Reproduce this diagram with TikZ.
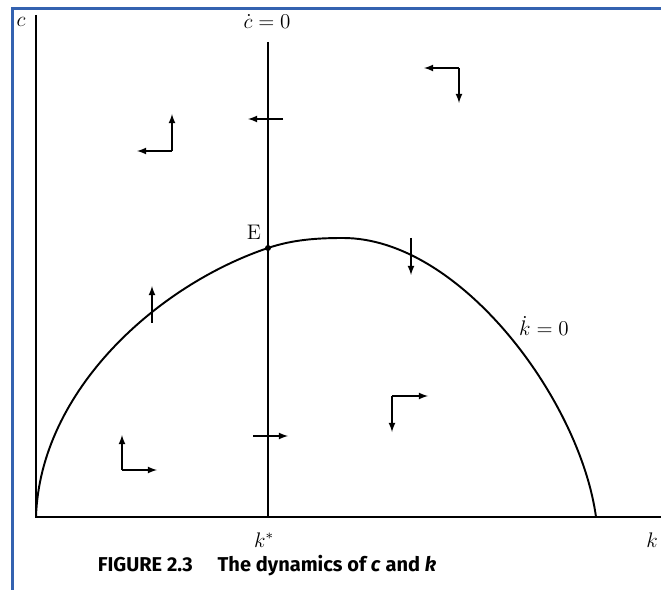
\documentclass[tikz,border=0pt]{standalone}
\usepackage{amsmath}
\usepackage{fontspec}
\newfontfamily\capfont{Fira Sans}
\usepackage{tikz}
\usetikzlibrary{calc,positioning,arrows}

\definecolor{frameblue}{RGB}{52,98,176}

\begin{document}
\begin{tikzpicture}[x=0.02cm, y=-0.02cm,
  axis/.style={line width=1.1pt},
  flow/.style={-latex, line width=0.8pt},
  lbl/.style={inner sep=1pt, font=\large}]
\useasboundingbox (0,0) rectangle (661,590);
\draw[frameblue, line width=1.6pt] (12.5,590) -- (12.5,8.5) -- (661,8.5);

% axes and the c-dot = 0 locus
\coordinate (O) at (36,517);
\coordinate (ctop) at (36,15);
\coordinate (kend) at (661,517);
\coordinate (Ltop) at (268,42);
\coordinate (kstar) at (268,517);
\draw[axis] (ctop) -- (O) -- (kend);
\draw[axis] (Ltop) -- (kstar);

% k-dot = 0 locus
\coordinate (E) at (268,248);
\coordinate (top) at (343,238);
\coordinate (kmax) at (596,517);
\draw[axis] (O) .. controls (40,390) and (158,285) .. (E)
  .. controls (293,239.5) and (318,238) .. (top)
  .. controls (460,238) and (580,400) .. (kmax);

\fill (E) circle (3);
\node[lbl] (Elbl) at (254,232) {E};

\node[lbl] (c) at (21,22) {$c$};
\node[lbl] (cdot) at (267,22) {$\dot c=0$};
\node[lbl] (kdot) at (544,326) {$\dot k=0$};
\node[lbl] (ks) at (264,540) {$k^{*}$};
\node[lbl] (k) at (652,540) {$k$};
\node (cap) at (267,566) {\capfont\fontsize{11.4}{13}\selectfont\bfseries FIGURE 2.3\quad\ The dynamics of \textit{c} and \textit{k}};

% direction arrows
\coordinate (ulc) at (172,151);
\coordinate (ulu) at (172,114);
\coordinate (ull) at (137,151);
\draw[flow] (ulc) -- (ulu);
\draw[flow] (ulc) -- (ull);

\coordinate (urc) at (459,68);
\coordinate (url) at (424,68);
\coordinate (urd) at (459,103);
\draw[flow] (urc) -- (url);
\draw[flow] (urc) -- (urd);

\coordinate (lrc) at (392,396);
\coordinate (lrr) at (428,396);
\coordinate (lrd) at (392,432);
\draw[flow] (lrc) -- (lrr);
\draw[flow] (lrc) -- (lrd);

\coordinate (llc) at (122,470);
\coordinate (llu) at (122,435);
\coordinate (llr) at (157,470);
\draw[flow] (llc) -- (llu);
\draw[flow] (llc) -- (llr);

\coordinate (ca) at (283,119);
\coordinate (cb) at (248,119);
\draw[flow] (ca) -- (cb);
\coordinate (cc) at (253,436);
\coordinate (cd) at (288,436);
\draw[flow] (cc) -- (cd);

\coordinate (ka) at (152,323);
\coordinate (kb) at (152,286);
\draw[flow] (ka) -- (kb);
\coordinate (kc) at (411,238);
\coordinate (kd) at (411,275);
\draw[flow] (kc) -- (kd);
\end{tikzpicture}
\end{document}
